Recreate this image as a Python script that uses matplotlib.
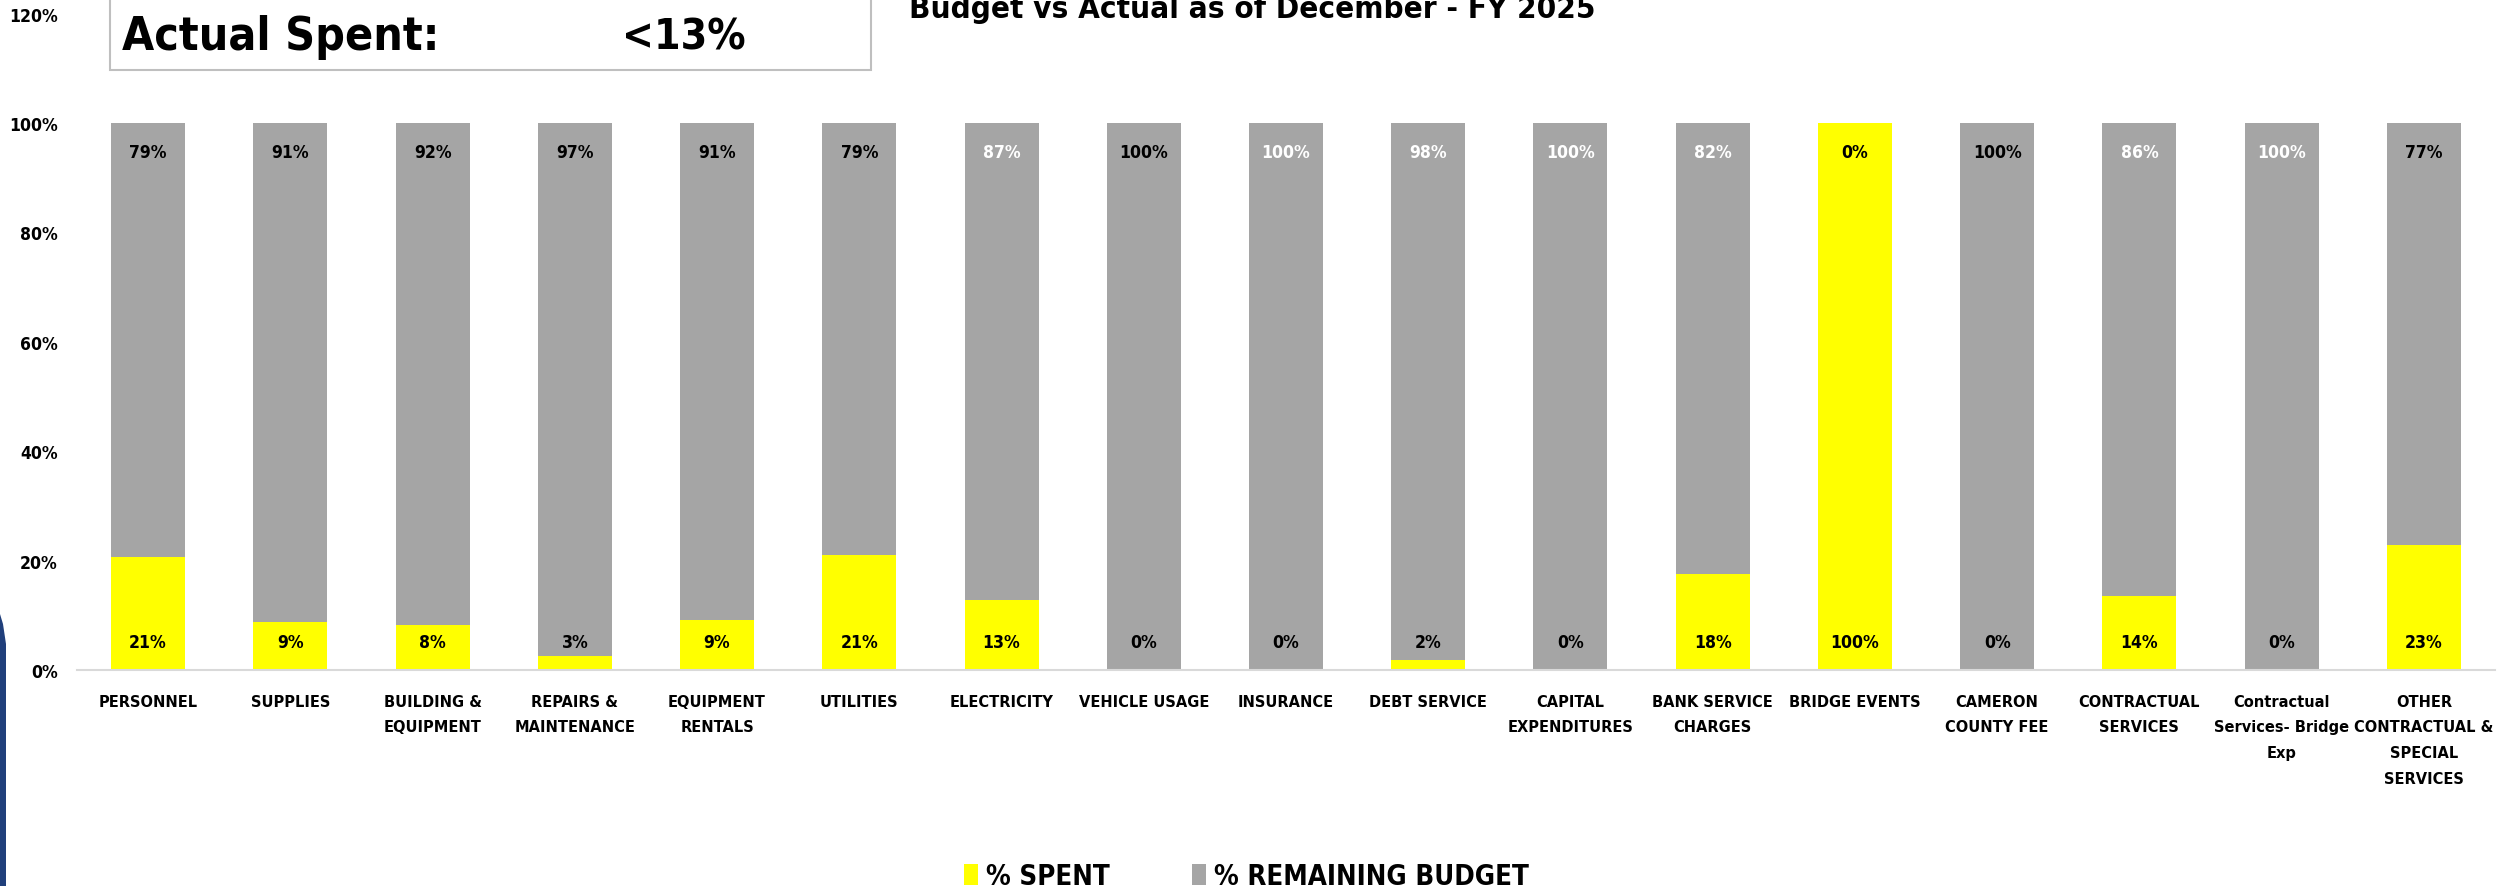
import os
import glob
import matplotlib
matplotlib.use("Agg")
import matplotlib.pyplot as plt
from matplotlib import font_manager
from matplotlib.font_manager import FontProperties
from matplotlib.patches import Patch, Rectangle, Polygon
from matplotlib.ticker import PercentFormatter

# chart data
categories = [
    "PERSONNEL", "SUPPLIES", "BUILDING &\nEQUIPMENT", "REPAIRS &\nMAINTENANCE",
    "EQUIPMENT\nRENTALS", "UTILITIES", "ELECTRICITY", "VEHICLE USAGE", "INSURANCE",
    "DEBT SERVICE", "CAPITAL\nEXPENDITURES", "BANK SERVICE\nCHARGES", "BRIDGE EVENTS",
    "CAMERON\nCOUNTY FEE", "CONTRACTUAL\nSERVICES", "Contractual\nServices- Bridge\nExp",
    "OTHER\nCONTRACTUAL &\nSPECIAL\nSERVICES",
]
spent = [0.207, 0.087, 0.082, 0.026, 0.091, 0.211, 0.128, 0.0, 0.0,
         0.018, 0.0, 0.176, 1.0, 0.0, 0.136, 0.0, 0.228]
remaining = [0.793, 0.913, 0.918, 0.974, 0.909, 0.789, 0.872, 1.0, 1.0,
             0.982, 1.0, 0.824, 0.0, 1.0, 0.864, 1.0, 0.772]
yticks = [0, 0.2, 0.4, 0.6, 0.8, 1.0, 1.2]
series_names = ["% SPENT", "% REMAINING BUDGET"]
title = "Budget vs Actual as of December - FY 2025"
callout_label = "Actual Spent:"
callout_value = "<13%"

# label colours for the top (remaining) data labels
top_label_colors = ["black"] * 6 + ["white", "black", "white", "white", "white",
                                    "white", "black", "black", "white", "white", "black"]

YELLOW = "#FFFF00"
GRAY = "#A5A5A5"


def find_condensed_bold():
    wanted = ["LiberationSansNarrow-Bold.ttf", "DejaVuSansCondensed-Bold.ttf"]
    paths = [f.fname for f in font_manager.fontManager.ttflist]
    paths += glob.glob("/usr/share/fonts/**/*.ttf", recursive=True)
    for name in wanted:
        for p in paths:
            if os.path.basename(p) == name:
                return p
    return None


COND = find_condensed_bold()
if COND:
    K = 1.0 if "Narrow" in COND else 0.9
else:
    K = 0.78


def cond_font(size):
    if COND:
        return FontProperties(fname=COND, size=size * K)
    return FontProperties(family="DejaVu Sans", weight="bold", size=size * K)


def main():
    W, H = 2501, 887
    fig = plt.figure(figsize=(W / 100, H / 100), dpi=100)
    fig.patch.set_facecolor("white")

    ax = fig.add_axes([77 / W, 1 - 671 / H, (2495 - 77) / W, (671 - 14.6) / H])
    x = list(range(len(categories)))
    ax.bar(x, spent, width=0.52, color=YELLOW, zorder=2)
    ax.bar(x, remaining, width=0.52, bottom=spent, color=GRAY, zorder=2)

    for i in x:
        ax.text(i, 0.051, f"{spent[i]:.0%}", ha="center", va="center",
                fontproperties=cond_font(14), color="black")
        ax.text(i, spent[i] + remaining[i] - 0.053, f"{remaining[i]:.0%}",
                ha="center", va="center", fontproperties=cond_font(14),
                color=top_label_colors[i])

    ax.set_xlim(-0.5, len(categories) - 0.5)
    ax.set_ylim(0, 1.2)
    ax.set_yticks(yticks)
    ax.yaxis.set_major_formatter(PercentFormatter(1.0, decimals=0))
    ax.set_xticks(x)
    ls = 1.9 if COND else 2.0
    ax.set_xticklabels(categories, linespacing=ls)
    ax.tick_params(axis="both", length=0)
    ax.tick_params(axis="y", pad=14)
    ax.tick_params(axis="x", pad=17)
    for lab in ax.get_yticklabels():
        lab.set_fontproperties(cond_font(14))
    for lab in ax.get_xticklabels():
        lab.set_fontproperties(cond_font(13))
    for side in ["top", "right", "left"]:
        ax.spines[side].set_visible(False)
    ax.spines["bottom"].set_color("#D9D9D9")
    ax.spines["bottom"].set_linewidth(1.5)

    # title (cropped at the top in the original)
    fig.text(1252 / W, 1 - 18 / H, title, ha="center", va="baseline",
             fontproperties=cond_font(25))

    # callout box
    fig.patches.append(Rectangle((110 / W, 1 - 71 / H), (871 - 110) / W, 0.2,
                                 transform=fig.transFigure, facecolor="white",
                                 edgecolor="#BFBFBF", linewidth=1.5))
    fig.text(122 / W, 1 - 50 / H, callout_label, ha="left", va="baseline",
             fontproperties=cond_font(37))
    fig.text(622 / W, 1 - 50 / H, callout_value, ha="left", va="baseline",
             fontproperties=cond_font(34))

    # dark blue strip on the left edge
    fig.patches.append(Polygon([(0, 0), (0, 1 - 615 / H), (3 / W, 1 - 625 / H),
                                (6 / W, 1 - 645 / H), (6 / W, 0)],
                               closed=True, transform=fig.transFigure,
                               facecolor="#203F7B", edgecolor="none"))

    handles = [Patch(facecolor=YELLOW), Patch(facecolor=GRAY)]
    fig.legend(handles, series_names, loc="center left",
               bbox_to_anchor=(964 / W, 1 - 877 / H), ncol=2, frameon=False,
               prop=cond_font(22),
               handlelength=0.5, handleheight=0.8, handletextpad=0.3,
               columnspacing=3.0, borderpad=0, borderaxespad=0)

    fig.savefig("out.png", dpi=100)


if __name__ == "__main__":
    main()
